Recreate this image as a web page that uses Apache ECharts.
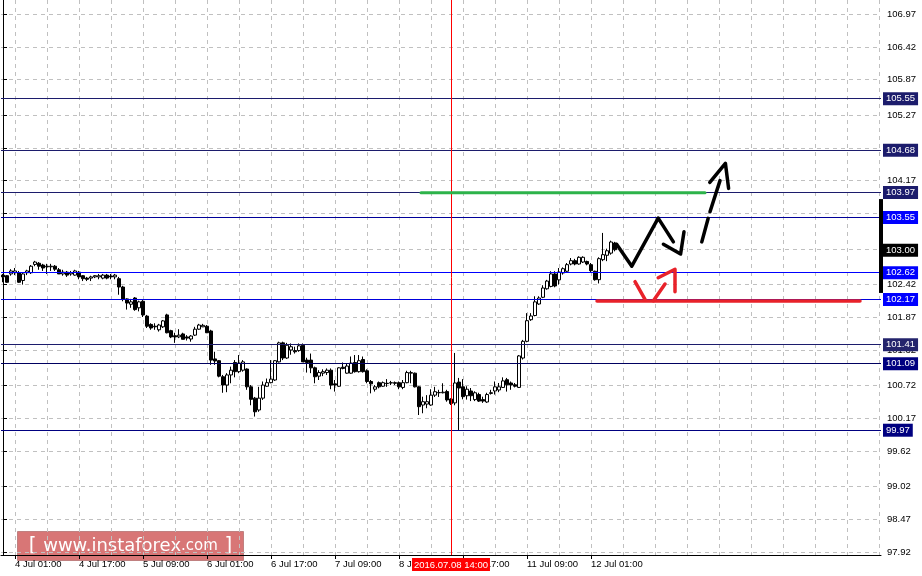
<!DOCTYPE html>
<html><head><meta charset="utf-8">
<script src="https://cdn.jsdelivr.net/npm/echarts@6/dist/echarts.min.js"></script>
<style>html,body{margin:0;padding:0;background:#fff}#c{width:922px;height:576px}</style>
</head><body><div id="c"></div><script>
// ---- time axis (hourly bars, weekend skipped) ----
const sessions = [['1 Jul',22,23],['4 Jul',0,23],['5 Jul',0,23],['6 Jul',0,23],['7 Jul',0,23],['8 Jul',0,23],['11 Jul',0,23],['12 Jul',0,7]];
const totalSlots = 220;
const redLineLabel = '2016.07.08 14:00';
const redLineBar = '8 Jul 14:00';

// ---- OHLC ----
const opens = [
102.58,102.57,102.60,102.62,102.62,102.49,102.62,102.62,102.76,102.78,
102.75,102.73,102.72,102.73,102.67,102.60,102.63,102.60,102.58,102.63,
102.57,102.53,102.53,102.55,102.55,102.53,102.58,102.565,102.55,102.52,
102.38,102.18,102.09,102.195,102.03,102.14,101.89,101.75,101.72,101.66,
101.71,101.91,101.645,101.56,101.54,101.59,101.54,101.505,101.57,101.67,
101.71,101.72,101.64,101.17,101.14,100.87,100.73,100.90,101.11,100.955,
100.98,101.00,100.70,100.51,100.31,100.51,100.71,100.77,100.815,101.12,
101.44,101.185,101.32,101.31,101.31,101.40,101.15,101.15,101.02,100.88,
100.93,100.94,100.98,100.75,100.71,101.03,100.93,100.93,101.11,100.955,
101.16,100.97,100.79,100.66,100.77,100.71,100.76,100.765,100.77,100.77,
100.69,100.77,100.93,100.93,100.70,100.394,100.41,100.394,100.56,100.60,
100.60,100.62,100.495,100.43,100.78,100.70,100.55,100.63,100.485,100.57,
100.485,100.445,100.60,100.63,100.647,100.69,100.82,100.765,100.735,100.69,
101.185,101.466,101.83,101.90,102.094,102.207,102.35,102.39,102.60,102.50,
102.616,102.645,102.767,102.823,102.767,102.80,102.81,102.756,102.645,102.503,
102.84,102.914,102.95,103.12];
const closes = [
102.55,102.46,102.65,102.65,102.46,102.60,102.65,102.73,102.80,102.73,
102.70,102.72,102.73,102.68,102.60,102.63,102.58,102.62,102.65,102.55,
102.52,102.51,102.55,102.57,102.57,102.58,102.53,102.55,102.58,102.38,
102.18,102.11,102.13,102.00,102.13,101.91,101.72,101.69,101.71,101.74,
101.81,101.61,101.54,101.54,101.57,101.50,101.52,101.555,101.67,101.74,
101.735,101.61,101.15,101.135,100.88,100.73,100.90,100.98,100.955,101.10,
101.12,100.70,100.49,100.28,100.51,100.73,100.77,100.83,101.14,101.44,
101.185,101.40,101.375,101.29,101.39,101.12,101.11,101.02,100.87,100.94,
100.955,100.98,100.73,100.73,101.02,101.01,101.05,101.10,100.955,101.14,
100.955,100.79,100.75,100.70,100.70,100.77,100.755,100.77,100.76,100.70,
100.77,100.94,100.94,100.70,100.366,100.45,100.45,100.56,100.618,100.605,
100.61,100.48,100.42,100.765,100.68,100.534,100.66,100.55,100.60,100.46,
100.46,100.57,100.59,100.70,100.70,100.80,100.735,100.73,100.71,101.22,
101.466,101.813,101.892,102.13,102.195,102.363,102.48,102.60,102.397,102.633,
102.688,102.756,102.823,102.767,102.88,102.88,102.767,102.655,102.503,102.857,
102.924,102.99,103.137,103.008];
const lows = [
102.46,102.45,102.57,102.58,102.45,102.42,102.58,102.60,102.73,102.67,
102.65,102.60,102.65,102.65,102.60,102.57,102.55,102.57,102.57,102.51,
102.48,102.48,102.48,102.53,102.51,102.51,102.51,102.51,102.51,102.25,
102.14,102.00,102.03,101.98,101.97,101.875,101.69,101.66,101.66,101.63,
101.69,101.60,101.52,101.44,101.52,101.50,101.48,101.46,101.555,101.66,
101.705,101.605,101.07,101.07,100.86,100.60,100.61,100.76,100.86,100.93,
100.955,100.65,100.39,100.20,100.28,100.48,100.70,100.76,100.80,101.11,
101.15,101.17,101.24,101.26,101.29,101.12,100.94,100.93,100.76,100.815,
100.88,100.90,100.66,100.62,100.70,100.995,100.92,100.92,100.94,100.94,
100.94,100.76,100.59,100.62,100.675,100.70,100.70,100.73,100.73,100.66,
100.66,100.76,100.76,100.69,100.226,100.255,100.34,100.38,100.53,100.53,
100.59,100.45,100.394,100.39,99.974,100.49,100.485,100.46,100.46,100.445,
100.43,100.43,100.57,100.57,100.61,100.68,100.62,100.65,100.69,100.68,
101.16,101.45,101.81,101.887,102.08,102.193,102.335,102.375,102.375,102.42,
102.588,102.616,102.745,102.745,102.756,102.784,102.745,102.633,102.486,102.44,
102.815,102.815,102.924,102.98];
const highs = [
102.60,102.58,102.68,102.70,102.65,102.63,102.67,102.75,102.82,102.80,
102.77,102.77,102.77,102.75,102.70,102.67,102.65,102.65,102.67,102.65,
102.58,102.55,102.57,102.58,102.60,102.60,102.60,102.60,102.60,102.55,
102.40,102.19,102.18,102.21,102.15,102.16,101.91,101.77,101.77,101.76,
101.825,101.93,101.66,101.61,101.67,101.61,101.57,101.57,101.71,101.76,
101.76,101.74,101.66,101.29,101.15,100.90,100.93,101.04,101.15,101.235,
101.15,101.01,100.73,100.53,100.70,100.79,100.84,101.15,101.15,101.46,
101.46,101.44,101.43,101.375,101.43,101.43,101.19,101.26,101.04,100.98,
100.995,101.01,101.01,100.815,101.03,101.11,101.085,101.21,101.235,101.235,
101.21,100.995,100.815,100.73,100.79,100.79,100.83,100.80,100.79,100.79,
100.815,100.97,100.97,100.94,100.71,100.534,100.56,100.66,100.70,100.65,
100.76,100.65,100.507,101.27,100.85,100.83,100.71,100.68,100.625,100.60,
100.534,100.60,100.65,100.79,100.765,100.86,100.85,100.79,100.765,101.236,
101.49,101.94,101.94,102.224,102.224,102.41,102.50,102.645,102.645,102.70,
102.71,102.784,102.868,102.854,102.897,102.897,102.823,102.784,102.655,102.88,
103.29,103.025,103.16,103.14];

// ---- price axis ----
const yMin = 97.87, yMax = 107.21;
const gridValues = [97.92,98.47,99.02,99.62,100.17,100.72,101.32,101.87,102.42,103.02,103.62,104.17,104.72,105.27,105.87,106.42,106.97];
const tickLabelValues = [97.92,98.47,99.02,99.62,100.17,100.72,101.32,101.87,102.42,104.17,105.27,105.87,106.42,106.97];

// ---- horizontal levels ----
const levelValues = [105.55,104.68,103.97,103.55,103.00,102.62,102.17,101.41,101.09,99.97];
const levelLineColors = ['#1c1c6c','#1c1c6c','#1c1c6c','#000099','rgba(0,0,0,0)','#0000ff','#0000dd','#1c1c6c','#000060','#000080'];
const levelLabelColors = ['#1c1c6c','#1c1c6c','#1c1c6c','#0000ff','#000000','#0000ff','#0000ff','#24246c','#000080','#000080'];

// ---- hand-drawn annotations (bar index, price) ----
const greenLine = [[104.5,103.965],[175.5,103.965]];
const redLine = [[148.5,102.143],[214.25,102.143]];
const blackZigzag = [[153.4,103.10],[157.2,102.73],[163.8,103.54],[167.6,103.14]];
const blackHead1 = [[165.1,103.10],[169.4,102.935],[170.25,103.31]];
const blackDash1 = [[174.7,103.14],[176.3,103.536]];
const blackDash2 = [[176.75,103.647],[179.25,104.17]];
const blackHead2 = [[176.7,104.142],[180.6,104.462],[181.4,104.04]];
const redStroke1 = [[158,102.47],[160.5,102.173]];
const redStroke2 = [[162.6,102.149],[165.5,102.43]];
const redHead = [[163.8,102.536],[168,102.678],[168,102.30]];
const axisRangeBar = [[219.5,103.86],[219.5,102.28]];

const categories = [];
sessions.forEach(([d, h0, h1]) => { for (let h = h0; h <= h1; h++) categories.push(d + ' ' + String(h).padStart(2,'0') + ':00'); });
const nBars = categories.length;
for (let k = nBars; k < totalSlots; k++) categories.push('f' + k);
const redLineIndex = categories.indexOf(redLineBar);

const candleData = opens.map((o, i) => [o, closes[i], lows[i], highs[i]]);
const FONT = 'Liberation Sans';

const levelMarks = levelValues.map((v, i) => ({
  yAxis: v,
  lineStyle: {color: levelLineColors[i], width: 1, type: 'solid'},
  label: {show: true, position: 'end', distance: 2, formatter: () => v.toFixed(2),
    backgroundColor: levelLabelColors[i], color: '#fff', padding: [2,3,1,3], fontSize: 9.5, fontFamily: FONT, lineHeight: 10}
}));

function stroke(data, color, width, z) {
  return {type: 'line', xAxisIndex: 1, yAxisIndex: 0, data, showSymbol: false, symbol: 'none', silent: true,
    lineStyle: {color, width, cap: 'round', join: 'round'}, z: z || 10, clip: false, animation: false};
}

const labelShown = (i) => i >= 3 && i <= 147 && (i - 3) % 16 === 0;
const gridShown = (i) => i >= 3 && (i - 3) % 8 === 0;

const chart = echarts.init(document.getElementById('c'), null, {renderer: 'canvas'});
chart.setOption({
  animation: false,
  backgroundColor: '#fff',
  grid: {left: 1, right: 41, top: 0, bottom: 21, containLabel: false},
  xAxis: [{
    type: 'category', data: categories, boundaryGap: true,
    axisLine: {lineStyle: {color: '#000', width: 1}},
    axisTick: {show: true, alignWithLabel: true, interval: labelShown, length: 4, lineStyle: {color: '#000'}},
    axisLabel: {interval: labelShown, align: 'left', color: '#000', fontSize: 9.5, fontFamily: FONT, margin: 4},
    splitLine: {show: true, interval: gridShown, alignWithLabel: true, lineStyle: {color: '#c0c0c0', type: [4,4]}}
  }, {
    type: 'value', min: -0.5, max: totalSlots - 0.5, show: false
  }],
  yAxis: [{
    type: 'value', position: 'right', min: yMin, max: yMax, scale: true,
    axisLine: {show: true, lineStyle: {color: '#000', width: 1}},
    axisTick: {show: true, length: 4, customValues: gridValues, lineStyle: {color: '#000'}},
    axisLabel: {customValues: tickLabelValues, formatter: (v) => v.toFixed(2), margin: 6, color: '#000', fontSize: 9.5, fontFamily: FONT},
    splitLine: {show: true, lineStyle: {color: '#c0c0c0', type: [4,4]}}
  }],
  series: [
    {
      type: 'candlestick', data: candleData, barWidth: 3, xAxisIndex: 0, yAxisIndex: 0, z: 2,
      itemStyle: {color: '#ffffff', color0: '#000000', borderColor: '#000000', borderColor0: '#000000', borderWidth: 1},
      markLine: {z: 3, symbol: ['none','none'], silent: true, animation: false, precision: 2, data: levelMarks}
    },
    {
      type: 'line', xAxisIndex: 0, yAxisIndex: 0, data: [], silent: true, z: 4,
      markLine: {z: 4, symbol: ['none','none'], silent: true, animation: false,
        lineStyle: {color: '#ff0000', width: 1, type: 'solid', opacity: 1},
        label: {show: true, position: 'start', distance: 3, formatter: () => redLineLabel,
          backgroundColor: '#ff0000', color: '#fff', padding: [2,2,1,2], fontSize: 9.5, fontFamily: FONT, lineHeight: 10},
        data: [{xAxis: redLineIndex}]}
    },
    stroke(greenLine, '#2db34a', 3),
    stroke(redLine, '#e8222a', 3.5),
    stroke(blackZigzag, '#000', 3.5),
    stroke(blackHead1, '#000', 3.5),
    stroke(blackDash1, '#000', 3.5),
    stroke(blackDash2, '#000', 3.5),
    stroke(blackHead2, '#000', 3.5),
    stroke(redStroke1, '#e8222a', 3.5),
    stroke(redStroke2, '#e8222a', 3.5),
    stroke(redHead, '#e8222a', 3.5),
    Object.assign(stroke(axisRangeBar, '#000', 4, 11), {lineStyle: {color: '#000', width: 4, cap: 'butt'}})
  ],
  graphic: [{
    type: 'group', left: 17, top: 531, z: 100,
    children: [
      {type: 'rect', shape: {x: 0, y: 0, width: 226, height: 29}, style: {fill: 'rgba(200,60,60,0.7)', stroke: 'rgba(150,70,70,0.5)', lineWidth: 1}},
      {type: 'text', x: 113, y: 14.5, style: {
        text: '{b|[}  {a|www.instaforex}{c|.com}  {b|]}', align: 'center', verticalAlign: 'middle', fill: '#fff',
        rich: {
          a: {fontFamily: 'DejaVu Sans', fontSize: 18, fill: '#fff'},
          c: {fontFamily: 'DejaVu Sans', fontSize: 15, fill: '#fff'},
          b: {fontFamily: 'DejaVu Sans', fontSize: 20, fill: '#fff'}
        }
      }}
    ]
  }]
});
</script></body></html>
